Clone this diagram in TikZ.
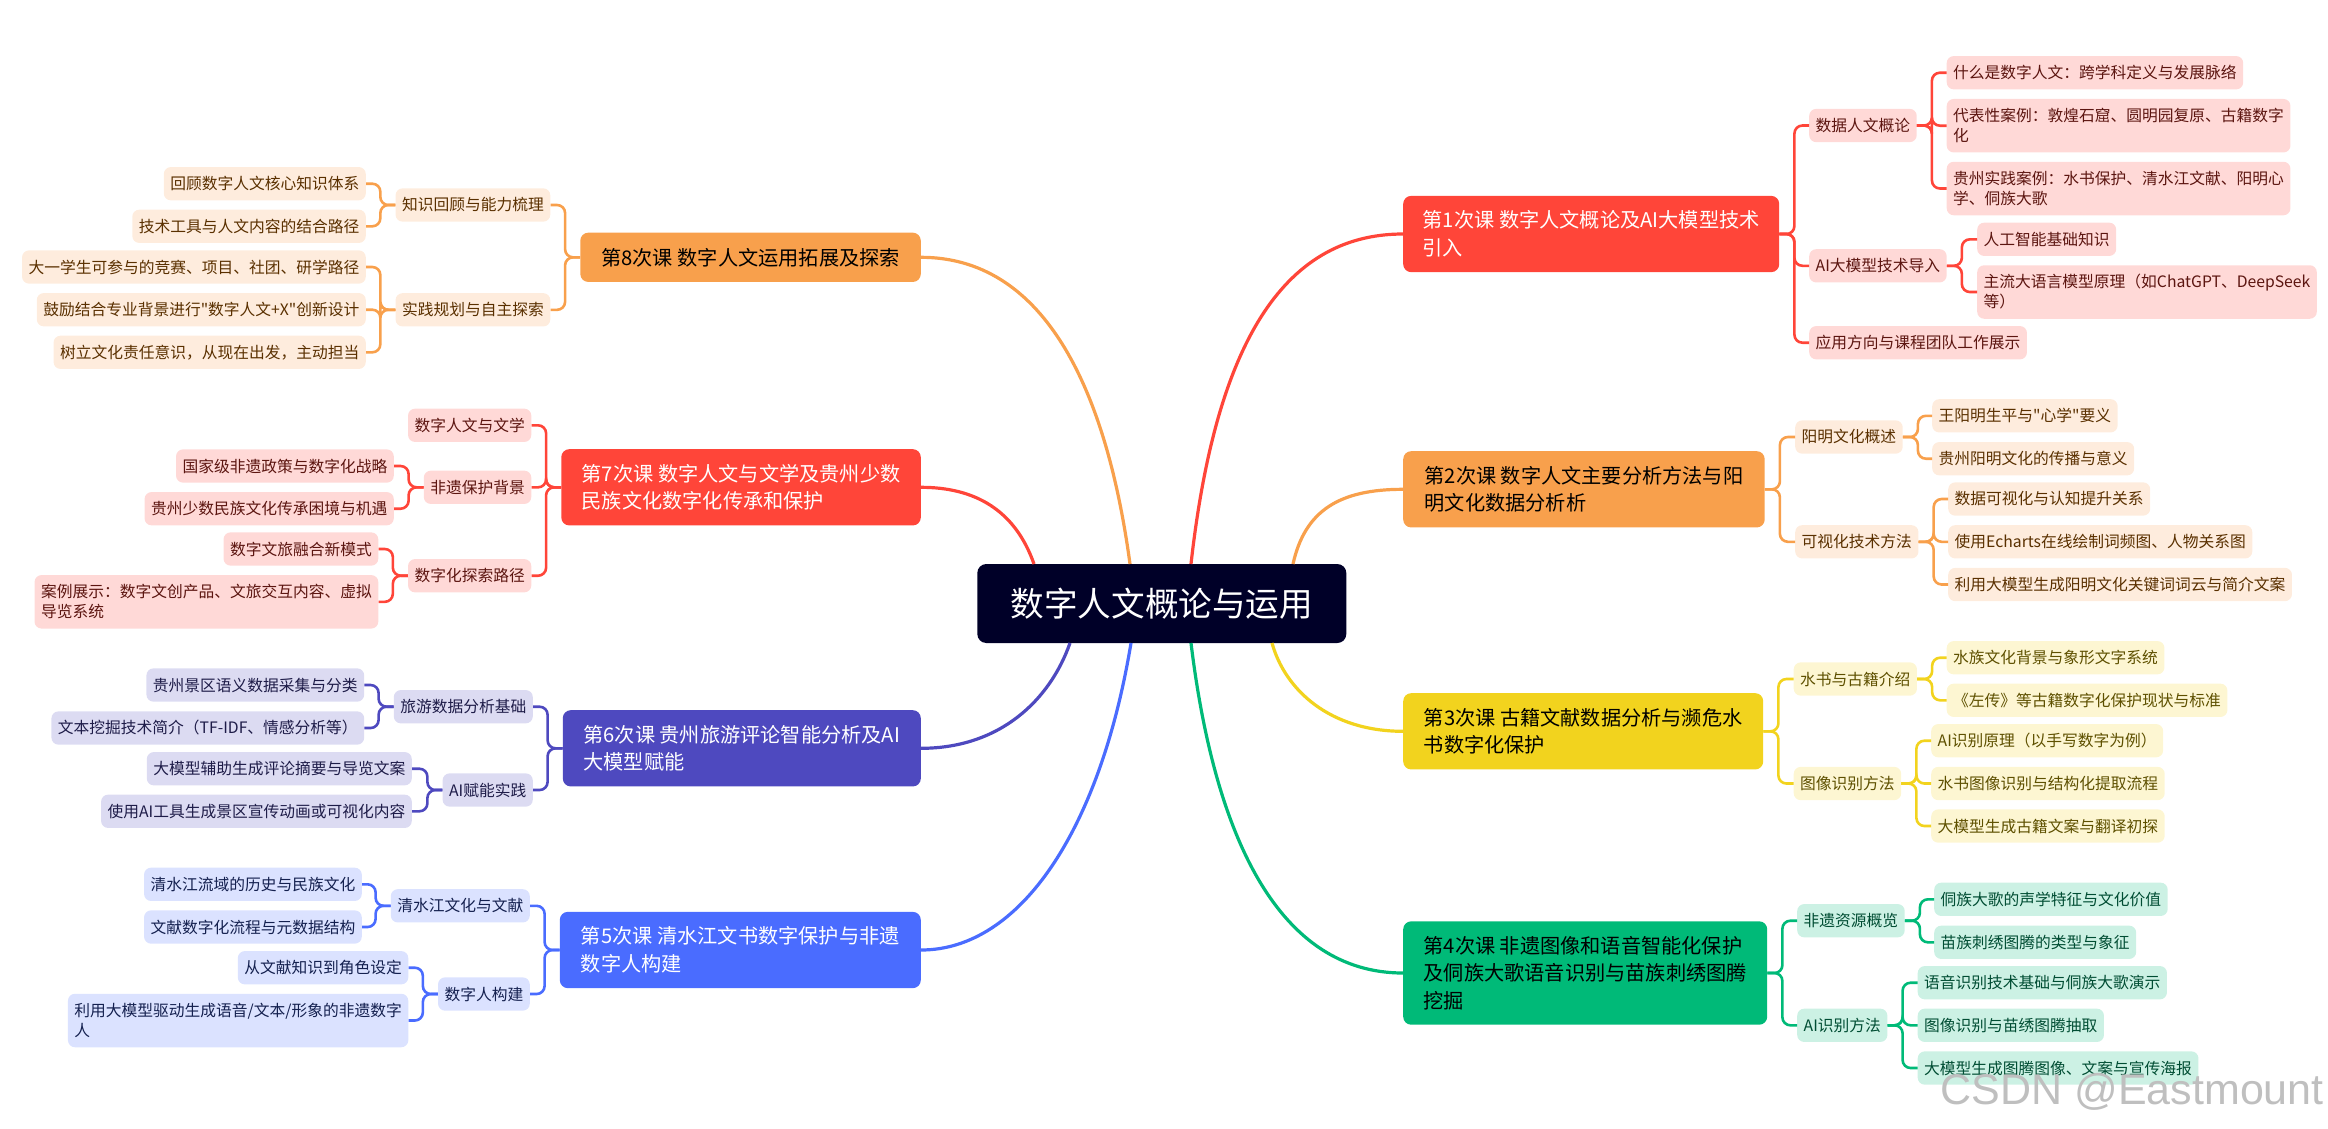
\documentclass[tikz,border=0pt]{standalone}
\usepackage{fontspec}
\setmainfont{Noto Sans CJK SC}[Ligatures=TeXOff]
\setsansfont{Liberation Sans}
\usepackage{tikz}

\definecolor{rootc}{HTML}{000028}
\definecolor{lred}{HTML}{FF4539}
\definecolor{lredlight}{HTML}{FFD9D7}
\definecolor{lreddark}{HTML}{5C1510}
\definecolor{lorange}{HTML}{F8A04C}
\definecolor{lorangelight}{HTML}{FEECDD}
\definecolor{lorangedark}{HTML}{5A3000}
\definecolor{lyellow}{HTML}{F2D31E}
\definecolor{lyellowlight}{HTML}{FDF6D2}
\definecolor{lyellowdark}{HTML}{5E5000}
\definecolor{lgreen}{HTML}{00BA78}
\definecolor{lgreenlight}{HTML}{CCF1E4}
\definecolor{lgreendark}{HTML}{004D33}
\definecolor{lblue}{HTML}{4A6CFF}
\definecolor{lbluelight}{HTML}{DBE2FF}
\definecolor{lbluedark}{HTML}{14204F}
\definecolor{lindigo}{HTML}{4E49BF}
\definecolor{lindigolight}{HTML}{DCDBF2}
\definecolor{lindigodark}{HTML}{1E1C48}

\tikzset{
  rootbox/.style={fill=rootc, text=white, rounded corners=9pt, minimum width=369pt, minimum height=79pt, inner sep=0pt, font=\fontsize{33.6}{40}\selectfont},
  mainbox/.style={fill=#1, rounded corners=8pt, inner xsep=19.5pt, inner ysep=0pt, minimum height=76.3pt, align=left, font=\fontsize{20.2}{27.7}\selectfont},
  subbox/.style={fill=#1light, text=#1dark, rounded corners=7pt, inner xsep=6.5pt, inner ysep=0pt, minimum height=33.3pt, align=left, font=\fontsize{15.75}{20}\selectfont},
  twoline/.style={minimum height=53.5pt},
  stem/.style={draw=#1, line width=3.2pt},
  twig/.style={draw=#1, line width=2.6pt, rounded corners=8pt},
}

\begin{document}
\begin{tikzpicture}[x=1pt, y=-1pt]
\useasboundingbox (0,0) rectangle (2328,1128);

\node[rootbox] (root) at (1161.8,603.5) {数字人文概论与运用};

% lesson 1
\begin{scope}[every node/.append style={anchor=west}]
\node[mainbox=lred, text=white, minimum width=376pt] (main1) at (1403,234) {第1次课 数字人文概论及AI大模型技术\\引入};
\node[subbox=lred] (s11) at (1809,125.5) {数据人文概论};
\node[subbox=lred] (l111) at (1946.5,72.7) {什么是数字人文：跨学科定义与发展脉络};
\node[subbox=lred, twoline] (l112) at (1946.5,125.7) {代表性案例：敦煌石窟、圆明园复原、古籍数字\\化};
\node[subbox=lred, twoline] (l113) at (1946.5,188.5) {贵州实践案例：水书保护、清水江文献、阳明心\\学、侗族大歌};
\node[subbox=lred] (s12) at (1809,265.8) {AI大模型技术导入};
\node[subbox=lred] (l121) at (1977,239.3) {人工智能基础知识};
\node[subbox=lred, twoline] (l122) at (1977,292) {主流大语言模型原理（如ChatGPT、DeepSeek\\等）};
\node[subbox=lred] (s13) at (1809,342.7) {应用方向与课程团队工作展示};

% lesson 2
\node[mainbox=lorange, text=black, minimum width=361.5pt] (main2) at (1403,489.3) {第2次课 数字人文主要分析方法与阳\\明文化数据分析析};
\node[subbox=lorange] (s21) at (1795,437) {阳明文化概述};
\node[subbox=lorange] (l211) at (1932,415.8) {王阳明生平与"心学"要义};
\node[subbox=lorange] (l212) at (1932,458.7) {贵州阳明文化的传播与意义};
\node[subbox=lorange] (s22) at (1795,541.8) {可视化技术方法};
\node[subbox=lorange] (l221) at (1948,499) {数据可视化与认知提升关系};
\node[subbox=lorange] (l222) at (1948,541.8) {使用Echarts在线绘制词频图、人物关系图};
\node[subbox=lorange] (l223) at (1948,584.5) {利用大模型生成阳明文化关键词词云与简介文案};

% lesson 3
\node[mainbox=lyellow, text=black, minimum width=360pt] (main3) at (1403,731.3) {第3次课 古籍文献数据分析与濒危水\\书数字化保护};
\node[subbox=lyellow] (s31) at (1793.5,679) {水书与古籍介绍};
\node[subbox=lyellow] (l311) at (1946.5,657.7) {水族文化背景与象形文字系统};
\node[subbox=lyellow] (l312) at (1946.5,700.3) {《左传》等古籍数字化保护现状与标准};
\node[subbox=lyellow] (s32) at (1793.5,783.5) {图像识别方法};
\node[subbox=lyellow] (l321) at (1931,740.7) {AI识别原理（以手写数字为例）};
\node[subbox=lyellow] (l322) at (1931,783.5) {水书图像识别与结构化提取流程};
\node[subbox=lyellow] (l323) at (1931,826) {大模型生成古籍文案与翻译初探};

% lesson 4
\node[mainbox=lgreen, text=black, minimum height=103.4pt, minimum width=364pt] (main4) at (1403,973) {第4次课 非遗图像和语音智能化保护\\及侗族大歌语音识别与苗族刺绣图腾\\挖掘};
\node[subbox=lgreen] (s41) at (1797,920.7) {非遗资源概览};
\node[subbox=lgreen] (l411) at (1934,899.3) {侗族大歌的声学特征与文化价值};
\node[subbox=lgreen] (l412) at (1934,942.3) {苗族刺绣图腾的类型与象征};
\node[subbox=lgreen] (s42) at (1797,1025.3) {AI识别方法};
\node[subbox=lgreen] (l421) at (1917.5,982.7) {语音识别技术基础与侗族大歌演示};
\node[subbox=lgreen] (l422) at (1917.5,1025.3) {图像识别与苗绣图腾抽取};
\node[subbox=lgreen] (l423) at (1917.5,1068) {大模型生成图腾图像、文案与宣传海报};
\end{scope}

% left side
\begin{scope}[every node/.append style={anchor=east}]
\node[mainbox=lblue, text=white, minimum width=361pt] (main5) at (921,950) {第5次课 清水江文书数字保护与非遗\\数字人构建};
\node[subbox=lblue] (s51) at (530,905.8) {清水江文化与文献};
\node[subbox=lblue] (l511) at (362,884.3) {清水江流域的历史与民族文化};
\node[subbox=lblue] (l512) at (362,927) {文献数字化流程与元数据结构};
\node[subbox=lblue] (s52) at (530,994) {数字人构建};
\node[subbox=lblue] (l521) at (408.5,967.7) {从文献知识到角色设定};
\node[subbox=lblue, twoline] (l522) at (408.5,1020.5) {利用大模型驱动生成语音/文本/形象的非遗数字\\人};

\node[mainbox=lindigo, text=white, minimum width=358pt] (main6) at (921,748.3) {第6次课 贵州旅游评论智能分析及AI\\大模型赋能};
\node[subbox=lindigo] (s61) at (533,706.7) {旅游数据分析基础};
\node[subbox=lindigo] (l611) at (364.4,685) {贵州景区语义数据采集与分类};
\node[subbox=lindigo] (l612) at (364.4,728) {文本挖掘技术简介（TF-IDF、情感分析等）};
\node[subbox=lindigo] (s62) at (533,790) {AI赋能实践};
\node[subbox=lindigo] (l621) at (412,768.7) {大模型辅助生成评论摘要与导览文案};
\node[subbox=lindigo] (l622) at (412,811.3) {使用AI工具生成景区宣传动画或可视化内容};

\node[mainbox=lred, text=white, minimum width=359.5pt] (main7) at (921,487.3) {第7次课 数字人文与文学及贵州少数\\民族文化数字化传承和保护};
\node[subbox=lred] (s71) at (531.5,425.3) {数字人文与文学};
\node[subbox=lred] (s72) at (531.5,487.3) {非遗保护背景};
\node[subbox=lred] (l721) at (394,466) {国家级非遗政策与数字化战略};
\node[subbox=lred] (l722) at (394,508.7) {贵州少数民族文化传承困境与机遇};
\node[subbox=lred] (s73) at (531.5,575.7) {数字化探索路径};
\node[subbox=lred] (l731) at (378.5,549) {数字文旅融合新模式};
\node[subbox=lred, twoline] (l732) at (378.5,601.8) {案例展示：数字文创产品、文旅交互内容、虚拟\\导览系统};

\node[mainbox=lorange, text=black, minimum height=49.3pt, minimum width=340.5pt] (main8) at (921,257.3) {第8次课 数字人文运用拓展及探索};
\node[subbox=lorange] (s81) at (550.5,205) {知识回顾与能力梳理};
\node[subbox=lorange] (l811) at (366,183.7) {回顾数字人文核心知识体系};
\node[subbox=lorange] (l812) at (366,226.3) {技术工具与人文内容的结合路径};
\node[subbox=lorange] (s82) at (550.5,309.8) {实践规划与自主探索};
\node[subbox=lorange] (l821) at (366,267) {大一学生可参与的竞赛、项目、社团、研学路径};
\node[subbox=lorange] (l822) at (366,309.7) {鼓励结合专业背景进行"数字人文+X"创新设计};
\node[subbox=lorange] (l823) at (366,352.3) {树立文化责任意识，从现在出发，主动担当};
\end{scope}

% from the root
\coordinate (r1) at (1191,564);
\coordinate (r2) at (1293,564);
\coordinate (r3) at (1272,643);
\coordinate (r4) at (1191,643);
\coordinate (r5) at (1131,643);
\coordinate (r6) at (1070,643);
\coordinate (r7) at (1034,564);
\coordinate (r8) at (1130,564);
\draw[stem=lred] (r1) .. controls (1215,350) and (1280,234) .. (main1.west);
\draw[stem=lorange] (r2) .. controls (1305,510) and (1340,489.3) .. (main2.west);
\draw[stem=lyellow] (r3) .. controls (1285,690) and (1330,731.3) .. (main3.west);
\draw[stem=lgreen] (r4) .. controls (1215,840) and (1280,973) .. (main4.west);
\draw[stem=lblue] (r5) .. controls (1100,830) and (1020,950) .. (main5.east);
\draw[stem=lindigo] (r6) .. controls (1050,700) and (1000,748.3) .. (main6.east);
\draw[stem=lred] (r7) .. controls (1015,510) and (975,487.3) .. (main7.east);
\draw[stem=lorange] (r8) .. controls (1105,380) and (1040,257.3) .. (main8.east);

% connectors, right side
\foreach \c/\a/\b in {lred/main1/s11, lred/main1/s12, lred/main1/s13, lred/s11/l111, lred/s11/l112, lred/s11/l113, lred/s12/l121, lred/s12/l122,
    lorange/main2/s21, lorange/main2/s22, lorange/s21/l211, lorange/s21/l212, lorange/s22/l221, lorange/s22/l222, lorange/s22/l223,
    lyellow/main3/s31, lyellow/main3/s32, lyellow/s31/l311, lyellow/s31/l312, lyellow/s32/l321, lyellow/s32/l322, lyellow/s32/l323,
    lgreen/main4/s41, lgreen/main4/s42, lgreen/s41/l411, lgreen/s41/l412, lgreen/s42/l421, lgreen/s42/l422, lgreen/s42/l423}{%
  \draw[twig=\c] (\a.east) -- ++(15,0) |- (\b.west);
}

% connectors, left side
\foreach \c/\a/\b in {lblue/main5/s51, lblue/main5/s52, lblue/s51/l511, lblue/s51/l512, lblue/s52/l521, lblue/s52/l522,
    lindigo/main6/s61, lindigo/main6/s62, lindigo/s61/l611, lindigo/s61/l612, lindigo/s62/l621, lindigo/s62/l622,
    lred/main7/s71, lred/main7/s72, lred/main7/s73, lred/s72/l721, lred/s72/l722, lred/s73/l731, lred/s73/l732,
    lorange/main8/s81, lorange/main8/s82, lorange/s81/l811, lorange/s81/l812, lorange/s82/l821, lorange/s82/l822, lorange/s82/l823}{%
  \draw[twig=\c] (\a.west) -- ++(-15,0) |- (\b.east);
}

\node[anchor=base east, inner sep=0pt, text=black!25, font=\sffamily\fontsize{43}{43}\selectfont] (mark) at (2324,1104) {CSDN @Eastmount};
\end{tikzpicture}
\end{document}
